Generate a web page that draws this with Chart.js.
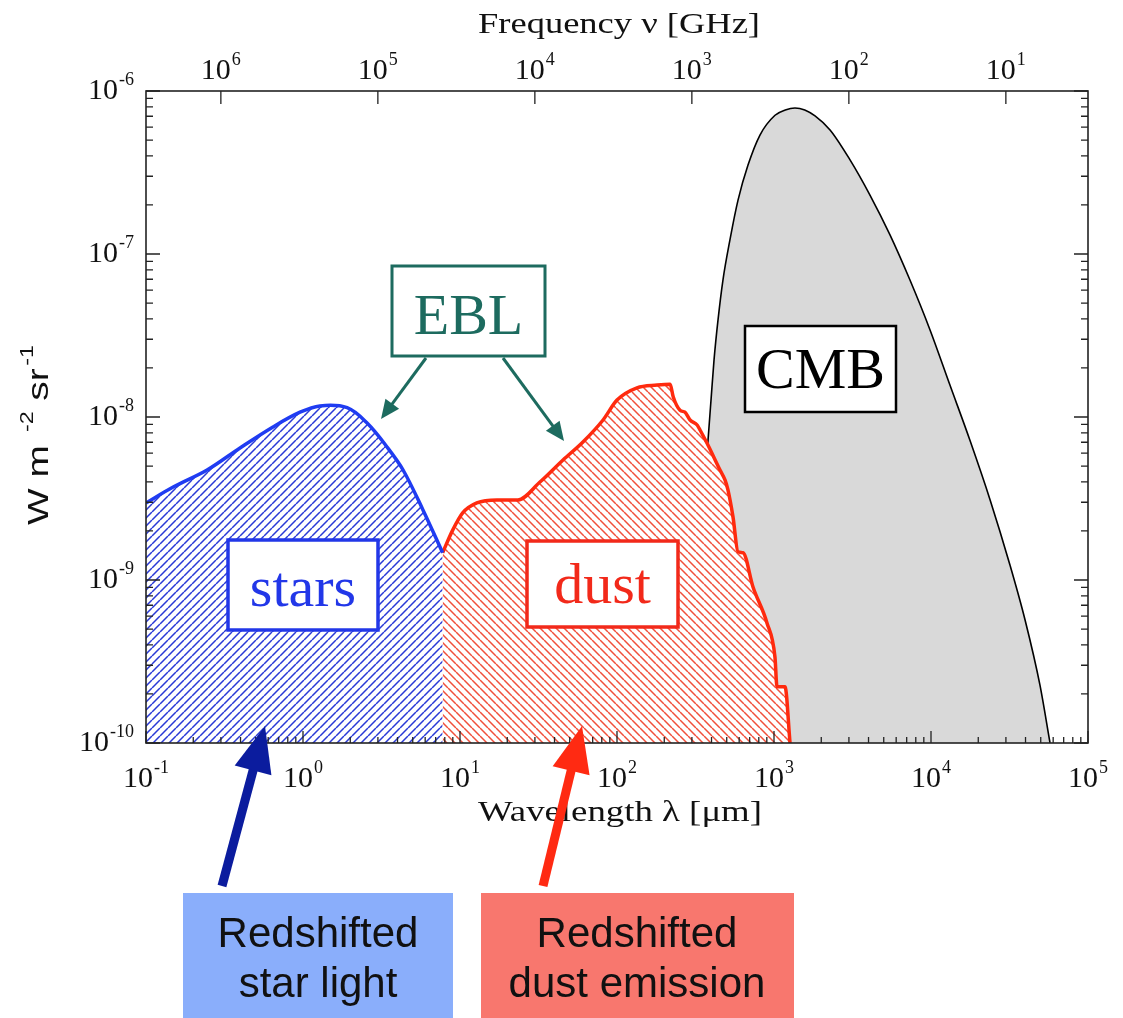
<!DOCTYPE html>
<html>
<head>
<meta charset="utf-8">
<script src="https://cdn.jsdelivr.net/npm/chart.js@4"></script>
<style>html,body{margin:0;background:#fff}canvas{display:block}</style>
</head>
<body>
<canvas id="c" width="1123" height="1018"></canvas>
<script>
// EBL / CMB spectrum (λ in μm, νIν in W m^-2 sr^-1)
const starsLambda = [0.1, 0.149, 0.245, 0.397, 0.644, 0.957, 1.28, 1.91, 2.56, 3.43, 4.34, 5.81, 7.75];
const starsFlux   = [2.97e-9, 3.72e-9, 4.73e-9, 6.46e-9, 8.69e-9, 1.07e-8, 1.17e-8, 1.14e-8, 9.18e-9, 6.55e-9, 4.73e-9, 2.69e-9, 1.47e-9];

const dustLambda = [7.75, 9.0, 10.4, 12.8, 17.2, 23.4, 32.3, 45.3, 60.7, 81.5, 100, 134, 180, 218, 228, 252, 271, 292, 324, 338, 374, 453, 488, 509, 548, 590, 635, 735, 902, 1014, 1045, 1175, 1265];
const dustFlux   = [1.47e-9, 2.03e-9, 2.58e-9, 2.97e-9, 3.10e-9, 3.10e-9, 3.99e-9, 5.45e-9, 7.03e-9, 9.59e-9, 1.27e-8, 1.51e-8, 1.57e-8, 1.59e-8, 1.33e-8, 1.10e-8, 1.07e-8, 9.59e-9, 8.93e-9, 8.32e-9, 6.92e-9, 4.73e-9, 4.10e-9, 3.57e-9, 2.44e-9, 1.49e-9, 1.47e-9, 9.06e-10, 5.45e-10, 3.37e-10, 2.21e-10, 2.21e-10, 1.0e-10];

const cmbLambda = [270, 340, 380, 397, 415, 440, 473, 524, 590, 683, 814, 1015, 1180, 1360, 1570, 1825, 2275, 3050, 4085, 5480, 7345, 9860, 13200, 17700, 23800, 31800, 39700, 49400, 57300];
const cmbFlux   = [1e-10, 1.6e-9, 7.2e-9, 1.27e-8, 2.24e-8, 3.94e-8, 6.92e-8, 1.22e-7, 2.14e-7, 3.51e-7, 5.37e-7, 7.1e-7, 7.65e-7, 7.87e-7, 7.65e-7, 7.03e-7, 5.77e-7, 3.78e-7, 2.30e-7, 1.31e-7, 6.92e-8, 3.42e-8, 1.57e-8, 7.2e-9, 3.1e-9, 1.24e-9, 5.7e-10, 2.27e-10, 1.0e-10];

// tick decades
const xTickExps  = [-1, 0, 1, 2, 3, 4, 5];
const yTickExps  = [-10, -9, -8, -7, -6];
const nuTickExps = [6, 5, 4, 3, 2, 1];

const C_UM_GHZ = 2.998e5; // ν[GHz] = c / λ[μm]

const SERIF = '"Liberation Serif", serif';
const SANS = '"Liberation Sans", Arial, sans-serif';

const pts = (xs, ys) => xs.map((x, i) => ({ x, y: ys[i] }));

function hatch(color, dir, size, lw) {
  const c = document.createElement('canvas');
  c.width = size; c.height = size;
  const g = c.getContext('2d');
  g.fillStyle = '#fff';
  g.fillRect(0, 0, size, size);
  g.strokeStyle = color;
  g.lineWidth = lw;
  g.beginPath();
  for (const k of [-size, 0, size]) {
    if (dir === '/') { g.moveTo(k, size); g.lineTo(k + size, 0); }
    else { g.moveTo(k, 0); g.lineTo(k + size, size); }
  }
  g.stroke();
  return g.createPattern(c, 'repeat');
}

function powLabel(ctx, exp, x, y, align) {
  const base = '10', e = String(exp);
  ctx.font = `30px ${SERIF}`;
  const wb = ctx.measureText(base).width;
  ctx.font = `18px ${SERIF}`;
  const we = ctx.measureText(e).width;
  const total = wb + we + 1;
  const x0 = align === 'center' ? x - total / 2 : x - total;
  ctx.textAlign = 'left';
  ctx.textBaseline = 'middle';
  ctx.fillStyle = '#111';
  ctx.font = `30px ${SERIF}`;
  ctx.fillText(base, x0, y);
  ctx.font = `18px ${SERIF}`;
  ctx.fillText(e, x0 + wb + 1, y - 11);
}

function fitText(ctx, text, cx, y, font, width) {
  ctx.font = font;
  const w = ctx.measureText(text).width;
  ctx.save();
  ctx.translate(cx, y);
  ctx.scale(width / w, 1);
  ctx.textAlign = 'center';
  ctx.textBaseline = 'alphabetic';
  ctx.fillText(text, 0, 0);
  ctx.restore();
}

function labelBox(ctx, r, text, color, baseline, lw) {
  ctx.fillStyle = '#fff';
  ctx.fillRect(r[0], r[1], r[2], r[3]);
  ctx.strokeStyle = color;
  ctx.lineWidth = lw;
  ctx.strokeRect(r[0], r[1], r[2], r[3]);
  ctx.fillStyle = color;
  ctx.font = `58px ${SERIF}`;
  ctx.textAlign = 'center';
  ctx.textBaseline = 'alphabetic';
  ctx.fillText(text, r[0] + r[2] / 2, baseline);
}

function arrow(ctx, x1, y1, x2, y2, color, w, headLen, headW) {
  const ang = Math.atan2(y2 - y1, x2 - x1);
  const bx = x2 - headLen * Math.cos(ang), by = y2 - headLen * Math.sin(ang);
  ctx.strokeStyle = color;
  ctx.fillStyle = color;
  ctx.lineWidth = w;
  ctx.lineCap = 'butt';
  ctx.beginPath();
  ctx.moveTo(x1, y1);
  ctx.lineTo(bx + Math.cos(ang) * 2, by + Math.sin(ang) * 2);
  ctx.stroke();
  const nx = -Math.sin(ang) * headW / 2, ny = Math.cos(ang) * headW / 2;
  ctx.beginPath();
  ctx.moveTo(x2, y2);
  ctx.lineTo(bx + nx, by + ny);
  ctx.lineTo(bx - nx, by - ny);
  ctx.closePath();
  ctx.fill();
}

const decor = {
  id: 'decor',
  afterDatasetsDraw(chart) {
    const { ctx, chartArea: a, scales } = chart;
    const x = scales.x, y = scales.y, xf = scales.xf;
    ctx.save();

    // inward tick marks
    ctx.strokeStyle = '#222';
    ctx.lineWidth = 1.3;
    ctx.beginPath();
    for (const d of xTickExps) {
      for (let m = 1; m <= 9; m++) {
        const v = m * 10 ** d;
        if (v > x.max * 1.0001) break;
        const px = x.getPixelForValue(v), len = m === 1 ? 12 : 6;
        ctx.moveTo(px, a.bottom); ctx.lineTo(px, a.bottom - len);
      }
    }
    for (const d of yTickExps) {
      for (let m = 1; m <= 9; m++) {
        const v = m * 10 ** d;
        if (v > y.max * 1.0001) break;
        const py = y.getPixelForValue(v), len = m === 1 ? 14 : 7;
        ctx.moveTo(a.left, py); ctx.lineTo(a.left + len, py);
        ctx.moveTo(a.right, py); ctx.lineTo(a.right - len, py);
      }
    }
    for (const d of nuTickExps) {
      const px = xf.getPixelForValue(10 ** d);
      ctx.moveTo(px, a.top); ctx.lineTo(px, a.top + 13);
    }
    ctx.stroke();

    // frame
    ctx.lineWidth = 1.6;
    ctx.strokeRect(a.left, a.top, a.right - a.left, a.bottom - a.top);

    // tick labels
    for (const d of xTickExps) powLabel(ctx, d, x.getPixelForValue(10 ** d), a.bottom + 36, 'center');
    for (const d of nuTickExps) powLabel(ctx, d, xf.getPixelForValue(10 ** d), a.top - 20, 'center');
    for (const d of yTickExps) powLabel(ctx, d, a.left - 12, y.getPixelForValue(10 ** d), 'right');

    // axis titles
    ctx.fillStyle = '#111';
    fitText(ctx, 'Frequency \u03bd [GHz]', 619, 33, `30px ${SERIF}`, 282);
    fitText(ctx, 'Wavelength \u03bb [\u03bcm]', 620, 821, `30px ${SERIF}`, 284);

    // y title, rotated
    ctx.save();
    ctx.translate(40, 435);
    ctx.rotate(-Math.PI / 2);
    const parts = [['W m', 30, 0, 0], ['-2', 18, -12, 10], ['sr', 30, 0, 8], ['-1', 18, -12, 2]];
    let tot = 0;
    for (const p of parts) { ctx.font = `${p[1]}px ${SANS}`; p.w = ctx.measureText(p[0]).width; tot += p.w + p[3]; }
    ctx.scale(180 / tot, 1);
    let cx = -tot / 2;
    ctx.textAlign = 'left';
    ctx.textBaseline = 'middle';
    for (const p of parts) {
      cx += p[3];
      ctx.font = `${p[1]}px ${SANS}`;
      ctx.fillText(p[0], cx, p[2]);
      cx += p.w;
    }
    ctx.restore();

    // in-plot labels
    labelBox(ctx, [392, 266, 153, 90], 'EBL', '#1d6b5f', 334, 3);
    labelBox(ctx, [228, 540, 150, 90], 'stars', '#2237e8', 606, 3.5);
    labelBox(ctx, [527, 541, 151, 86], 'dust', '#f2291a', 603, 3.5);
    labelBox(ctx, [745, 326, 151, 86], 'CMB', '#000', 388, 2.5);

    arrow(ctx, 426, 358, 381, 419, '#1d6b5f', 3, 19, 17);
    arrow(ctx, 503, 358, 564, 441, '#1d6b5f', 3, 19, 17);

    // bottom call-outs
    ctx.fillStyle = '#8aaefb';
    ctx.fillRect(183, 893, 270, 125);
    ctx.fillStyle = '#f8776e';
    ctx.fillRect(481, 893, 313, 125);
    ctx.fillStyle = '#111';
    ctx.font = `42px ${SANS}`;
    ctx.textAlign = 'center';
    ctx.textBaseline = 'middle';
    ctx.fillText('Redshifted', 318, 935);
    ctx.fillText('star light', 318, 985);
    ctx.fillText('Redshifted', 637, 935);
    ctx.fillText('dust emission', 637, 985);

    arrow(ctx, 222, 886, 265, 726, '#0b1c9e', 9, 46, 38);
    arrow(ctx, 543, 886, 582, 726, '#ff2a12', 9, 46, 38);

    ctx.restore();
  }
};

const blueHatch = hatch('#2a3ad6', '/', 8, 1.5);
const redHatch = hatch('#f0503c', '\\', 8, 1.5);

new Chart(document.getElementById('c'), {
  type: 'line',
  data: {
    datasets: [
      { label: 'stars', data: pts(starsLambda, starsFlux), borderColor: '#1f3cf2', borderWidth: 3.5,
        backgroundColor: blueHatch, fill: 'start', pointRadius: 0, tension: 0.35 },
      { label: 'dust', data: pts(dustLambda, dustFlux), borderColor: '#ff2a0e', borderWidth: 3.5,
        backgroundColor: redHatch, fill: 'start', pointRadius: 0, cubicInterpolationMode: 'monotone' },
      { label: 'CMB', data: pts(cmbLambda, cmbFlux), borderColor: '#000', borderWidth: 1.6,
        backgroundColor: '#d9d9d9', fill: 'start', pointRadius: 0, cubicInterpolationMode: 'monotone' }
    ]
  },
  options: {
    responsive: false,
    animation: false,
    events: [],
    layout: { padding: { left: 146, right: 35, top: 91, bottom: 275 } },
    plugins: { legend: { display: false }, tooltip: { enabled: false } },
    scales: {
      x: { type: 'logarithmic', min: 0.1, max: 1e5, display: false },
      y: { type: 'logarithmic', min: 1e-10, max: 1e-6, display: false },
      xf: { type: 'logarithmic', axis: 'x', position: 'top', reverse: true,
            min: C_UM_GHZ / 1e5, max: C_UM_GHZ / 0.1, display: false }
    }
  },
  plugins: [decor]
});
</script>
</body>
</html>
